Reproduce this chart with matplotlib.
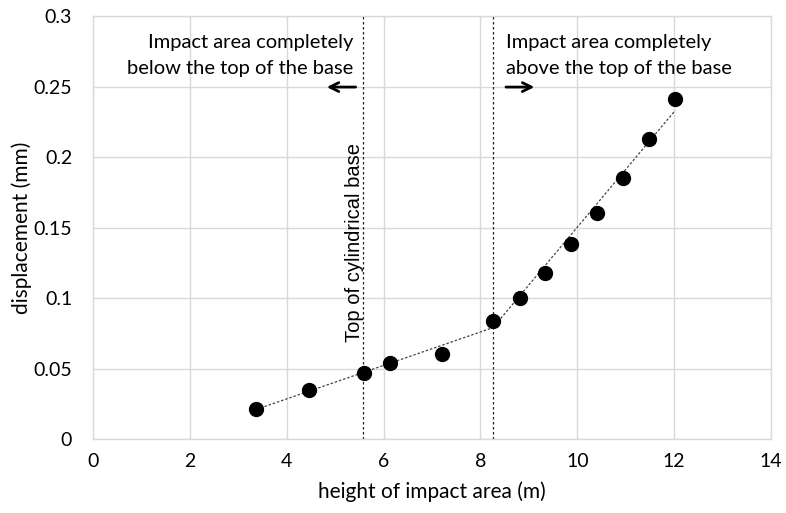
import matplotlib
matplotlib.use("Agg")
import matplotlib.pyplot as plt

# Data
height_m = [3.37, 4.47, 5.60, 6.14, 7.20, 8.26, 8.81, 9.33, 9.87, 10.40, 10.94, 11.48, 12.02]
displacement_mm = [0.021, 0.035, 0.047, 0.054, 0.060, 0.084, 0.100, 0.118, 0.138, 0.160, 0.185, 0.213, 0.241]

trend_x = [3.37, 8.26, 12.02]
trend_y = [0.021, 0.079, 0.233]

base_top_x = 5.58
impact_above_x = 8.26

x_ticks = [0, 2, 4, 6, 8, 10, 12, 14]
y_ticks = [0, 0.05, 0.1, 0.15, 0.2, 0.25, 0.3]
y_tick_labels = ["0", "0.05", "0.1", "0.15", "0.2", "0.25", "0.3"]

plt.rcParams['font.family'] = ['Lato', 'DejaVu Sans']

fig = plt.figure(figsize=(7.86, 5.13), dpi=100)
ax = fig.add_axes([0.1183, 0.1442, 0.981 - 0.1183, 0.9688 - 0.1442])

grid_c = "#d9d9d9"
ax.set_xlim(0, 14)
ax.set_ylim(0, 0.3)
ax.set_xticks(x_ticks)
ax.set_xticklabels([str(t) for t in x_ticks])
ax.set_yticks(y_ticks)
ax.set_yticklabels(y_tick_labels)
ax.grid(True, color=grid_c, linewidth=1.0)
ax.set_axisbelow(True)
for s in ax.spines.values():
    s.set_color(grid_c)
    s.set_linewidth(1.0)
ax.tick_params(length=0, labelsize=14, colors="#000000")
ax.tick_params(axis="y", pad=15)
ax.tick_params(axis="x", pad=10)

ax.axvline(base_top_x, color="#222222", linestyle=(0, (2, 2)), linewidth=0.9)
ax.axvline(impact_above_x, color="#222222", linestyle=(0, (2, 2)), linewidth=0.9)

ax.plot(trend_x, trend_y, color="#444444", linestyle=(0, (2, 1.5)), linewidth=0.9, zorder=3)
ax.plot(height_m, displacement_mm, linestyle="none", marker="o", markersize=10,
        color="black", zorder=4)

ax.text(5.37, 0.2723, "Impact area completely\nbelow the top of the base", ha="right",
        va="center", fontsize=14.5, linespacing=1.65)
ax.text(8.52, 0.2723, "Impact area completely\nabove the top of the base", ha="left",
        va="center", fontsize=14.5, linespacing=1.65)

ax.annotate("", xy=(4.77, 0.2496), xytext=(5.48, 0.2496),
            arrowprops=dict(arrowstyle="->", color="black", lw=2, mutation_scale=16))
ax.annotate("", xy=(9.17, 0.2496), xytext=(8.47, 0.2496),
            arrowprops=dict(arrowstyle="->", color="black", lw=2, mutation_scale=16))

ax.text(5.40, 0.1397, "Top of cylindrical base", rotation=90, ha="center", va="center",
        fontsize=14.5, family=["Liberation Sans", "DejaVu Sans"])

ax.set_xlabel("height of impact area (m)", fontsize=15, labelpad=8)
ax.set_ylabel("displacement (mm)", fontsize=15, labelpad=1)

fig.savefig("out.png", dpi=100)
